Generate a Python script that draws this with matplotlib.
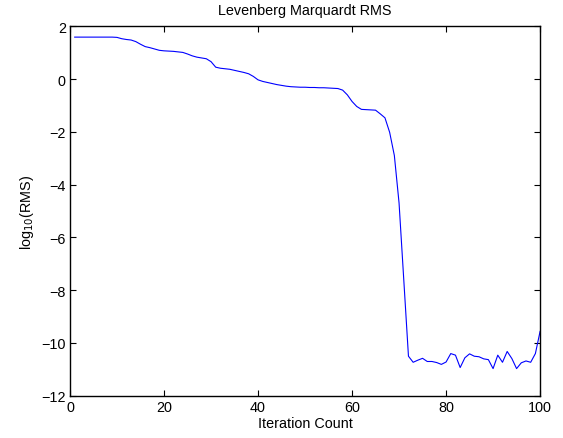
import numpy as np
from matplotlib import pyplot as plt

plt.rcParams['font.family'] = ['Liberation Sans', 'DejaVu Sans']

# log10 of RMS per Levenberg-Marquardt iteration
iterations = list(range(1, 101))
logRMS = [
    1.59, 1.59, 1.59, 1.59, 1.59, 1.59, 1.59, 1.59, 1.59, 1.58,   # 1-10
    1.53, 1.50, 1.48, 1.42, 1.32, 1.23, 1.19, 1.14, 1.09, 1.07,   # 11-20
    1.06, 1.05, 1.03, 1.01, 0.95, 0.88, 0.83, 0.80, 0.77, 0.66,   # 21-30
    0.45, 0.41, 0.39, 0.37, 0.33, 0.29, 0.25, 0.20, 0.10, -0.03,  # 31-40
    -0.09, -0.13, -0.17, -0.21, -0.24, -0.27, -0.29, -0.30, -0.31, -0.31,  # 41-50
    -0.32, -0.32, -0.33, -0.33, -0.34, -0.35, -0.36, -0.42, -0.60, -0.85,  # 51-60
    -1.04, -1.15, -1.16, -1.17, -1.18, -1.32, -1.47, -2.02, -2.90, -4.70,  # 61-70
    -7.60, -10.51, -10.74, -10.66, -10.59, -10.71, -10.71, -10.75, -10.82, -10.73,  # 71-80
    -10.41, -10.47, -10.94, -10.57, -10.42, -10.51, -10.53, -10.61, -10.64, -10.98,  # 81-90
    -10.47, -10.74, -10.33, -10.60, -10.98, -10.76, -10.69, -10.74, -10.41, -9.57,  # 91-100
]

xTicks = [0, 20, 40, 60, 80, 100]
yTicks = [-12, -10, -8, -6, -4, -2, 0, 2]

fig = plt.figure(figsize=(5.63, 4.39), dpi=100)
ax = fig.add_axes([0.1243, 0.0968, 0.8350, 0.8410])
ax.plot(iterations, logRMS, c='b', lw=0.8)

ax.set_xlim(0, 100)
ax.set_ylim(-12, 2)
ax.set_xticks(xTicks)
ax.set_yticks(yTicks)
ax.tick_params(direction='in', length=4, width=0.8, labelsize=10.4, pad=3,
               top=True, right=True, labeltop=False, labelright=False)
for s in ax.spines.values():
    s.set_linewidth(1.0)

ax.set_title("Levenberg Marquardt RMS", fontsize=10.4, pad=9)
ax.set_xlabel("Iteration Count", fontsize=10.4, labelpad=2)
ax.set_ylabel(r"log$_{10}$(RMS)", fontsize=10.4, labelpad=4)

fig.savefig("out.png", dpi=100)
